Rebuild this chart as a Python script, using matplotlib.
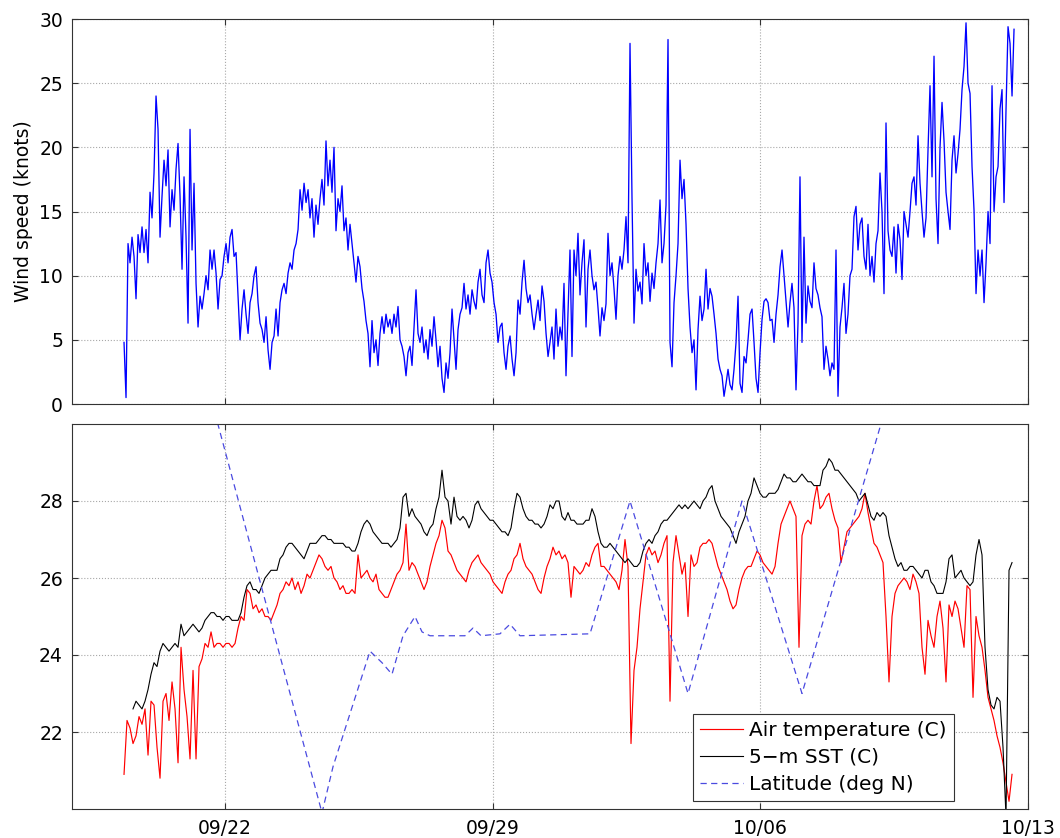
import numpy as np
import matplotlib
matplotlib.use("Agg")
import matplotlib.pyplot as plt
from matplotlib.lines import Line2D

# ---------------- data (time = days since 09/18 00:00) ----------------
tick_days = [4, 11, 18, 25]
tick_labels = ["09/22", "09/29", "10/06", "10/13"]

# wind speed (knots), regular sampling inside each record segment
wind_step = 0.05231
wind_seg_start = [1.3604, 6.2238, 12.4999, 18.7760]
wind_1 = [4.8, 0.5, 12.5, 11.0, 13.0, 11.5, 8.2, 13.2, 11.8, 13.8,
          11.8, 13.6, 11.0, 16.5, 14.5, 18.0, 24.0, 21.4, 13.0, 16.2,
          19.0, 17.0, 19.8, 13.8, 16.7, 15.1, 18.3, 20.3, 16.2, 10.5,
          17.7, 13.0, 6.3, 21.4, 12.0, 17.2, 9.4, 6.0, 8.4, 7.4,
          8.6, 10.0, 8.9, 12.0, 10.5, 12.0, 10.2, 7.4, 9.7, 10.0,
          11.5, 12.5, 11.0, 13.0, 13.6, 11.5, 11.8, 8.4, 5.0, 7.4,
          8.9, 7.0, 5.5, 7.9, 8.6, 10.0, 10.7, 7.9, 6.3, 5.8,
          4.8, 6.8, 4.2, 2.7, 4.8, 5.3, 7.4, 5.3, 7.9, 8.9,
          9.4, 8.6, 10.2, 11.0, 10.5, 12.0, 12.5, 13.6, 16.7, 15.1,
          17.2, 15.7, 16.7]
wind_2 = [14.5, 16.0, 13.0, 15.5, 14.0, 16.0, 17.5, 15.5, 20.5, 17.0,
          19.0, 16.5, 20.0, 13.5, 16.0, 15.0, 17.0, 13.5, 14.5, 12.0,
          14.0, 12.5, 11.0, 9.5, 11.5, 10.7, 9.0, 8.0, 6.5, 5.5,
          2.9, 6.5, 4.0, 5.0, 3.0, 5.5, 6.8, 5.5, 7.0, 6.0,
          6.6, 5.5, 7.0, 6.0, 7.6, 5.0, 4.5, 3.7, 2.2, 4.0,
          4.5, 3.0, 6.0, 8.9, 5.5, 4.8, 6.0, 4.0, 5.0, 3.5,
          5.8, 4.5, 6.8, 5.0, 2.9, 4.5, 2.0, 0.9, 3.2, 2.0,
          4.0, 7.4, 5.0, 2.7, 5.8, 7.0, 7.5, 9.4, 7.4, 8.5,
          7.0, 8.9, 8.0, 7.4, 9.5, 10.5, 8.5, 7.9, 11.0, 12.0,
          10.2, 9.5, 7.9, 7.0, 4.8, 6.0, 6.3, 4.0, 2.7, 4.5,
          5.3, 3.5, 2.2, 4.0, 8.1, 7.0, 9.5, 11.2, 9.0, 7.9,
          8.5, 7.0, 5.8, 7.0, 8.1, 6.5, 9.2, 8.0, 5.5, 3.7]
wind_3 = [4.8, 6.0, 3.5, 7.4, 4.5, 6.0, 5.0, 9.4, 2.2, 7.0,
          12.0, 3.7, 12.0, 10.0, 13.3, 8.5, 11.0, 12.8, 6.0, 10.5,
          12.0, 10.0, 8.9, 9.5, 7.5, 5.3, 7.5, 6.5, 7.8, 13.3,
          10.0, 11.0, 9.0, 6.6, 10.0, 11.5, 10.5, 12.0, 14.6, 11.0,
          28.1, 16.0, 6.3, 10.5, 8.8, 9.5, 7.8, 12.5, 10.0, 11.0,
          8.0, 10.2, 9.0, 11.0, 12.5, 15.9, 11.0, 12.5, 15.5, 28.4,
          4.8, 2.9, 7.9, 10.0, 12.5, 19.0, 16.0, 17.5, 14.0, 9.0,
          6.0, 4.0, 5.0, 1.1, 5.8, 8.4, 6.5, 7.4, 10.5, 7.4,
          9.0, 8.4, 7.0, 5.5, 3.5, 2.7, 2.2, 0.6, 1.6, 2.7,
          1.5, 1.1, 2.7, 4.8, 8.4, 1.6, 0.9, 3.7, 3.2, 5.0,
          7.0, 7.4, 4.8, 2.0, 0.9, 4.0, 6.6, 8.0, 8.2, 7.9,
          6.5, 6.6, 4.8, 7.0, 8.5, 10.7, 12.0, 10.0, 8.0, 6.0]
wind_4 = [7.9, 9.4, 7.5, 1.1, 6.3, 17.7, 4.8, 13.0, 6.3, 9.2,
          8.0, 7.5, 11.0, 9.0, 8.5, 7.5, 6.8, 2.7, 4.5, 3.5,
          2.2, 3.2, 2.7, 12.0, 0.6, 6.0, 7.5, 9.4, 5.5, 7.0,
          10.0, 10.5, 14.6, 15.4, 12.0, 14.0, 14.5, 11.5, 10.5, 14.0,
          10.0, 11.5, 9.5, 12.5, 13.5, 18.0, 15.0, 8.6, 21.9, 13.5,
          12.0, 11.5, 13.8, 10.2, 14.0, 12.8, 9.7, 15.0, 14.0, 13.0,
          15.0, 17.2, 17.7, 15.5, 20.9, 17.2, 15.0, 13.0, 14.5, 19.8,
          24.8, 17.7, 27.1, 16.0, 12.5, 20.0, 23.5, 20.5, 16.5, 15.0,
          13.6, 19.0, 20.9, 18.0, 19.5, 21.4, 24.5, 26.3, 29.7, 25.0,
          24.2, 18.5, 15.1, 8.6, 12.0, 10.0, 12.0, 7.9, 11.0, 15.0,
          12.5, 24.8, 15.0, 17.7, 18.5, 23.0, 24.5, 15.7, 23.0, 29.4,
          28.1, 24.0, 29.2]

# temperatures (C)
temp_step = 0.07846
air_seg_start = [1.3604, 6.2238, 12.4999, 18.7760]
air_1 = [20.9, 22.3, 22.1, 21.7, 21.9, 22.4, 22.2, 22.6, 21.4, 22.8,
         22.7, 21.6, 20.8, 22.8, 23.0, 22.3, 23.3, 22.6, 21.2, 24.2,
         23.1, 22.4, 21.3, 23.6, 21.3, 23.7, 23.9, 24.3, 24.2, 24.6,
         24.2, 24.3, 24.3, 24.2, 24.3, 24.3, 24.2, 24.3, 24.7, 25.0,
         24.9, 25.7, 25.6, 25.2, 25.3, 25.1, 25.2, 25.0, 25.0, 24.9,
         25.1, 25.3, 25.6, 25.7, 25.9, 25.8, 26.0, 25.7, 25.9, 25.6,
         25.8, 26.1]
air_2 = [26.0, 26.2, 26.4, 26.6, 26.5, 26.3, 26.2, 26.3, 26.0, 25.9,
         25.7, 25.8, 25.6, 25.6, 25.7, 25.6, 26.6, 26.0, 26.1, 26.2,
         26.0, 25.9, 26.1, 25.7, 25.6, 25.5, 25.5, 25.7, 25.9, 26.1,
         26.2, 26.4, 27.4, 26.2, 26.4, 26.3, 26.1, 25.9, 25.7, 25.9,
         26.3, 26.6, 26.9, 27.1, 27.5, 27.3, 26.7, 26.6, 26.4, 26.2,
         26.1, 26.0, 25.9, 26.2, 26.4, 26.5, 26.6, 26.4, 26.3, 26.2,
         26.1, 25.9, 25.8, 25.7, 25.6, 25.9, 26.1, 26.2, 26.5, 26.6,
         26.9, 26.5, 26.3, 26.2, 26.1, 25.9, 25.7, 25.6, 26.0, 26.3]
air_3 = [26.5, 26.8, 26.6, 26.7, 26.5, 26.6, 26.4, 25.5, 26.3, 26.2,
         26.1, 26.2, 26.4, 26.3, 26.6, 26.8, 26.9, 26.3, 26.3, 26.2,
         26.1, 26.0, 25.9, 25.7, 26.2, 27.0, 26.3, 21.7, 23.6, 24.2,
         25.2, 25.9, 26.6, 26.8, 26.6, 26.7, 26.4, 26.6, 26.9, 27.1,
         22.8, 26.4, 27.1, 26.6, 26.1, 26.4, 25.0, 26.6, 26.3, 26.4,
         26.8, 26.9, 26.9, 27.0, 26.9, 26.6, 26.3, 26.1, 25.9, 25.7,
         25.4, 25.2, 25.3, 25.7, 26.0, 26.2, 26.3, 26.3, 26.5, 26.7,
         26.6, 26.4, 26.3, 26.2, 26.1, 26.3, 26.9, 27.4, 27.6, 27.8]
air_4 = [28.0, 27.8, 27.6, 24.2, 27.1, 27.4, 27.5, 27.4, 28.0, 28.4,
         27.8, 27.9, 28.1, 28.2, 27.8, 27.5, 27.3, 26.4, 26.8, 27.2,
         27.3, 27.4, 27.5, 27.6, 27.8, 28.2, 27.7, 27.3, 26.9, 26.8,
         26.6, 26.4, 25.0, 23.3, 25.0, 25.6, 25.8, 25.9, 26.0, 25.9,
         25.7, 26.1, 25.9, 25.6, 24.2, 23.5, 24.9, 24.5, 24.2, 25.0,
         25.4, 24.7, 23.3, 25.3, 25.0, 25.4, 25.2, 24.7, 24.2, 25.8,
         25.7, 22.9, 25.0, 24.5, 24.2, 23.6, 22.9, 22.6, 22.3, 21.9,
         21.6, 21.2, 20.7, 20.2, 20.9]

sst_seg_start = [1.5952, 6.2238, 12.4999, 18.7760]
sst_1 = [22.6, 22.8, 22.7, 22.6, 22.8, 23.1, 23.5, 23.8, 23.7, 24.1,
         24.3, 24.2, 24.1, 24.2, 24.3, 24.2, 24.8, 24.5, 24.6, 24.7,
         24.8, 24.7, 24.6, 24.7, 24.9, 25.0, 25.1, 25.1, 25.0, 25.0,
         24.9, 25.0, 25.0, 24.9, 24.9, 24.9, 25.1, 25.5, 25.8, 25.9,
         25.7, 25.7, 25.6, 25.8, 26.0, 26.1, 26.2, 26.2, 26.2, 26.5,
         26.6, 26.8, 26.9, 26.9, 26.8, 26.7, 26.6, 26.5, 26.7]
sst_2 = [26.9, 26.9, 26.9, 27.0, 27.1, 27.1, 27.0, 27.0, 26.9, 26.9,
         26.9, 26.9, 26.8, 26.8, 26.7, 26.7, 26.9, 27.2, 27.4, 27.5,
         27.4, 27.2, 27.1, 27.0, 26.9, 26.9, 26.9, 26.8, 26.9, 27.0,
         27.3, 28.1, 28.2, 27.6, 27.8, 27.6, 27.5, 27.4, 27.2, 27.1,
         27.3, 27.4, 27.8, 28.1, 28.8, 28.1, 28.0, 27.4, 28.1, 27.6,
         27.5, 27.6, 27.5, 27.3, 27.5, 27.9, 28.0, 27.8, 27.7, 27.6,
         27.5, 27.5, 27.4, 27.3, 27.2, 27.2, 27.1, 27.3, 27.8, 28.2,
         28.1, 27.8, 27.6, 27.5, 27.5, 27.4, 27.4, 27.3, 27.4, 27.6]
sst_3 = [27.9, 27.8, 28.0, 28.0, 27.6, 27.5, 27.7, 27.5, 27.5, 27.4,
         27.4, 27.4, 27.5, 27.5, 27.8, 27.6, 27.2, 26.9, 26.8, 26.8,
         26.9, 26.8, 26.7, 26.6, 26.5, 26.4, 26.5, 26.4, 26.3, 26.3,
         26.4, 26.7, 26.9, 27.0, 26.9, 27.1, 27.2, 27.4, 27.5, 27.5,
         27.6, 27.7, 27.8, 27.9, 27.8, 27.9, 27.8, 27.9, 28.0, 27.9,
         27.8, 28.0, 28.1, 28.3, 28.4, 28.0, 27.8, 27.6, 27.5, 27.4,
         27.3, 27.1, 26.9, 27.2, 27.4, 27.6, 28.0, 28.2, 28.6, 28.4,
         28.2, 28.1, 28.1, 28.2, 28.2, 28.2, 28.3, 28.5, 28.7, 28.6]
sst_4 = [28.6, 28.5, 28.5, 28.6, 28.7, 28.6, 28.5, 28.5, 28.4, 28.4,
         28.4, 28.8, 28.9, 29.1, 29.0, 28.8, 28.8, 28.7, 28.6, 28.5,
         28.4, 28.3, 28.2, 28.0, 28.1, 28.2, 27.9, 27.6, 27.5, 27.7,
         27.6, 27.7, 27.6, 27.1, 26.8, 26.5, 26.3, 26.4, 26.2, 26.2,
         26.3, 26.3, 26.2, 26.1, 26.0, 26.2, 26.2, 25.9, 25.8, 25.6,
         25.6, 25.6, 25.9, 26.5, 26.6, 26.0, 26.1, 26.2, 26.0, 25.9,
         25.8, 25.9, 26.6, 27.0, 26.6, 24.2, 23.1, 22.7, 22.6, 22.9,
         22.8, 21.6, 19.8, 26.2, 26.4]

# ship latitude (deg N), track vertices
lat_days = [3.086, 6.538, 6.826, 7.793, 8.107, 8.368, 8.656, 8.970, 9.153,
            9.362, 10.277, 10.486, 10.696, 11.192, 11.454, 11.715, 13.546,
            14.592, 16.109, 17.521, 19.090, 21.391]
lat_vals = [32.7, 19.9, 21.1, 24.1, 23.8, 23.5, 24.5, 25.0, 24.6,
            24.5, 24.5, 24.7, 24.5, 24.55, 24.8, 24.5, 24.55,
            28.0, 23.0, 28.0, 23.0, 30.8]


def build(starts, step, parts):
    t, v = [], []
    for s, p in zip(starts, parts):
        t.append(s + step * np.arange(len(p)))
        v.append(np.asarray(p, float))
    return np.concatenate(t), np.concatenate(v)


t_wind, wind = build(wind_seg_start, wind_step, [wind_1, wind_2, wind_3, wind_4])
t_air, air = build(air_seg_start, temp_step, [air_1, air_2, air_3, air_4])
t_sst, sst = build(sst_seg_start, temp_step, [sst_1, sst_2, sst_3, sst_4])

# ---------------- figure ----------------
W, H = 1060, 838
fig = plt.figure(figsize=(W / 100, H / 100), dpi=100)
ax1 = fig.add_axes([72 / W, 1 - 404 / H, 956 / W, 385 / H])
ax2 = fig.add_axes([72 / W, 1 - 809 / H, 956 / W, 385 / H])

spine_col = "#333333"
for ax in (ax1, ax2):
    ax.set_xlim(0, 25)
    ax.set_xticks(tick_days)
    ax.grid(True, linestyle=":", color="#a8a8a8", linewidth=0.8)
    ax.set_axisbelow(True)
    ax.tick_params(direction="in", length=4, width=0.8, top=True, right=True,
                   labelsize=13.5, color=spine_col, labelcolor="black")
    ax.tick_params(axis="y", pad=6.5)
    ax.tick_params(axis="x", pad=7.5)
    for sp in ax.spines.values():
        sp.set_color(spine_col)
        sp.set_linewidth(0.8)

ax1.plot(t_wind, wind, color="#0000ff", linewidth=0.95)
ax1.set_ylim(0, 30)
ax1.set_yticks([0, 5, 10, 15, 20, 25, 30])
ax1.set_xticklabels([])
ax1.set_ylabel("Wind speed (knots)", fontsize=13.5)
ax1.yaxis.set_label_coords(-0.041, 0.5)

ax2.plot(t_air, air, color="#ff0000", linewidth=0.85)
ax2.plot(t_sst, sst, color="black", linewidth=0.8)
ax2.plot(lat_days, lat_vals, color="#4a4ae0", linewidth=0.9, dashes=(5, 3.5))
ax2.set_ylim(20, 30)
ax2.set_yticks([22, 24, 26, 28])
ax2.set_xticklabels(tick_labels)

handles = [Line2D([], [], color="#ff0000", linewidth=0.85),
           Line2D([], [], color="black", linewidth=0.8),
           Line2D([], [], color="#4a4ae0", linewidth=0.9, dashes=(5, 3.5))]
leg = ax2.legend(handles, ["Air temperature (C)", "5\u2212m SST (C)", "Latitude (deg N)"],
                 loc="lower right", bbox_to_anchor=(954 / W, 1 - 801 / H),
                 bbox_transform=fig.transFigure, fontsize=14.5, frameon=True,
                 fancybox=False, edgecolor=spine_col, framealpha=1,
                 borderpad=0.35, labelspacing=0.4, handlelength=2.14,
                 handletextpad=0.3, borderaxespad=0)
leg.get_frame().set_linewidth(0.8)

fig.savefig("out.png", dpi=100)
